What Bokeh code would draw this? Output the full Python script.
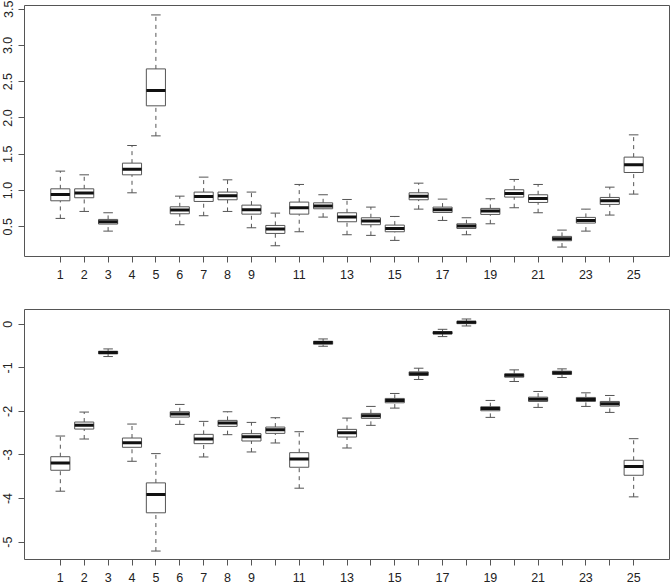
from bokeh.plotting import figure
from bokeh.layouts import column
from bokeh.models import Range1d, FixedTicker
from bokeh.embed import file_html
from bokeh.resources import INLINE

# ---------------- data ----------------
groups = list(range(1, 26))
x_tick_labels = {g: (str(g) if (g <= 9 or g % 2 == 1) else "") for g in groups}

top_lo  = [0.615, 0.711, 0.44, 0.968, 1.753, 0.528, 0.652, 0.711, 0.486, 0.238, 0.431, 0.633, 0.39,
           0.381, 0.312, 0.743, 0.587, 0.39, 0.541, 0.762, 0.693, 0.22, 0.44, 0.661, 0.95]
top_q1  = [0.858, 0.90, 0.537, 1.216, 2.167, 0.679, 0.849, 0.872, 0.674, 0.408, 0.674, 0.748, 0.569,
           0.528, 0.431, 0.872, 0.697, 0.477, 0.67, 0.909, 0.835, 0.307, 0.551, 0.808, 1.248]
top_med = [0.945, 0.964, 0.569, 1.294, 2.378, 0.73, 0.918, 0.927, 0.734, 0.468, 0.762, 0.785, 0.633,
           0.578, 0.477, 0.922, 0.734, 0.509, 0.716, 0.959, 0.89, 0.335, 0.587, 0.858, 1.354]
top_q3  = [1.023, 1.023, 0.601, 1.377, 2.676, 0.775, 0.978, 0.978, 0.798, 0.518, 0.84, 0.83, 0.693,
           0.624, 0.523, 0.968, 0.771, 0.541, 0.753, 1.01, 0.941, 0.367, 0.629, 0.904, 1.46]
top_hi  = [1.267, 1.216, 0.693, 1.62, 3.42, 0.922, 1.184, 1.147, 0.978, 0.688, 1.083, 0.941, 0.876,
           0.771, 0.642, 1.101, 0.881, 0.624, 0.886, 1.152, 1.083, 0.454, 0.743, 1.046, 1.767]
top_yticks = [0.5, 1.0, 1.5, 2.0, 2.5, 3.0, 3.5]
top_ylabels = ["0.5", "1.0", "1.5", "2.0", "2.5", "3.0", "3.5"]

bot_lo  = [-3.832, -2.634, -0.74, -3.145, -5.206, -2.298, -3.046, -2.534, -2.931, -2.725, -3.763, -0.504, -2.84,
           -2.32, -1.924, -1.267, -0.282, -0.038, -2.137, -1.313, -1.908, -1.221, -1.885, -2.023, -3.962]
bot_q1  = [-3.351, -2.405, -0.679, -2.824, -4.328, -2.13, -2.74, -2.344, -2.679, -2.504, -3.282, -0.458, -2.588,
           -2.16, -1.802, -1.176, -0.221, 0.015, -1.985, -1.214, -1.771, -1.153, -1.771, -1.878, -3.466]
bot_med = [-3.183, -2.32, -0.649, -2.718, -3.908, -2.061, -2.634, -2.267, -2.58, -2.42, -3.092, -0.42, -2.489,
           -2.099, -1.748, -1.137, -0.191, 0.046, -1.931, -1.168, -1.718, -1.115, -1.725, -1.824, -3.267]
bot_q3  = [-3.04, -2.244, -0.618, -2.611, -3.641, -2.008, -2.527, -2.206, -2.511, -2.359, -2.947, -0.389, -2.412,
           -2.046, -1.702, -1.092, -0.168, 0.069, -1.893, -1.137, -1.672, -1.076, -1.679, -1.771, -3.122]
bot_hi  = [-2.565, -2.015, -0.565, -2.29, -2.969, -1.84, -2.229, -2.008, -2.252, -2.145, -2.466, -0.336, -2.153,
           -1.885, -1.588, -1.008, -0.115, 0.122, -1.748, -1.046, -1.542, -1.023, -1.573, -1.634, -2.626]
bot_yticks = [-5, -4, -3, -2, -1, 0]
bot_ylabels = ["-5", "-4", "-3", "-2", "-1", "0"]

BOXW = 0.8
CAPW = 0.4
LINE = "#555555"
TEXT = "#222222"
FONT = "Liberation Sans"


def boxpanel(lo, q1, med, q3, hi, yr, yticks, ylabels, height, top_b, bot_b):
    p = figure(width=670, height=height, output_backend="svg", toolbar_location=None,
               x_range=Range1d(-0.5, 26.5), y_range=Range1d(*yr),
               min_border_left=23, min_border_right=1, min_border_top=top_b, min_border_bottom=bot_b)
    p.xgrid.visible = False
    p.ygrid.visible = False
    p.outline_line_color = LINE
    p.outline_line_width = 1
    p.background_fill_color = "white"
    p.border_fill_color = "white"

    xs = groups
    # whiskers (dashed)
    p.segment(x0=xs, y0=q3, x1=xs, y1=hi, line_color=LINE, line_width=1, line_dash="4 4")
    p.segment(x0=xs, y0=lo, x1=xs, y1=q1, line_color=LINE, line_width=1, line_dash="4 4")
    # caps
    p.segment(x0=[x - CAPW / 2 for x in xs], y0=hi, x1=[x + CAPW / 2 for x in xs], y1=hi,
              line_color=LINE, line_width=1)
    p.segment(x0=[x - CAPW / 2 for x in xs], y0=lo, x1=[x + CAPW / 2 for x in xs], y1=lo,
              line_color=LINE, line_width=1)
    # boxes
    p.vbar(x=xs, width=BOXW, bottom=q1, top=q3, fill_color="white", line_color=LINE, line_width=1)
    # medians
    p.segment(x0=[x - BOXW / 2 for x in xs], y0=med, x1=[x + BOXW / 2 for x in xs], y1=med,
              line_color="#111111", line_width=3, line_cap="butt")

    for ax in (p.xaxis[0], p.yaxis[0]):
        ax.axis_line_color = None
        ax.major_tick_line_color = LINE
        ax.major_tick_out = 6
        ax.major_tick_in = 0
        ax.minor_tick_line_color = None
        ax.major_label_text_font = FONT
        ax.major_label_text_font_size = "12.5px"
        ax.major_label_text_color = TEXT

    p.xaxis.ticker = FixedTicker(ticks=groups)
    p.xaxis.major_label_overrides = x_tick_labels
    p.xaxis.major_label_standoff = 7
    p.yaxis.ticker = FixedTicker(ticks=yticks)
    p.yaxis.major_label_overrides = {t: l for t, l in zip(yticks, ylabels)}
    p.yaxis.major_label_orientation = "vertical"
    p.yaxis.major_label_standoff = 6
    return p


p1 = boxpanel(top_lo, top_q1, top_med, top_q3, top_hi, (0.09, 3.55), top_yticks, top_ylabels,
              height=290, top_b=5, bot_b=34)
p2 = boxpanel(bot_lo, bot_q1, bot_med, bot_q3, bot_hi, (-5.40, 0.34), bot_yticks, bot_ylabels,
              height=294, top_b=19, bot_b=24)

p = column(p1, p2, spacing=0)
open("out.html", "w").write(file_html(p, INLINE))
